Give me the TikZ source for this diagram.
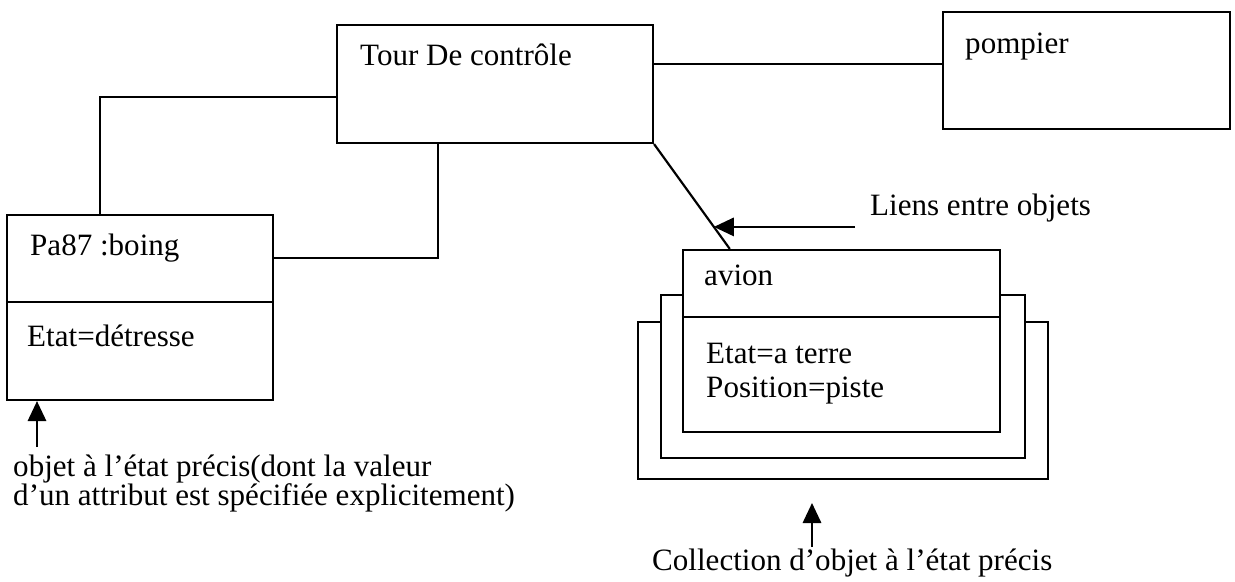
\documentclass[tikz,border=0pt]{standalone}
\usepackage{fontspec}
\setmainfont{Liberation Serif}
\usetikzlibrary{arrows.meta,calc,fit}

\tikzset{
	objbox/.style={draw, line width=0.65mm, inner sep=0pt, fit={#1}},
	lien/.style={line width=0.65mm},
	fleche/.style={line width=0.65mm, -{Triangle[length=6mm,width=5.5mm]}},
	txt/.style={anchor=base west, inner sep=0pt, font=\fontsize{26.5pt}{30pt}\selectfont}
}

\begin{document}
\begin{tikzpicture}[x=0.03cm, y=-0.03cm]
		\useasboundingbox (0,0) rectangle (1235,581);

		% objets
		\node (tour) [objbox={(337,25) (653,143)}] {};
		\node (pompier) [objbox={(943,12) (1230,129)}] {};
		\node (boing) [objbox={(7,215) (273,400)}] {};
		\node (coll3) [objbox={(638,322) (1048,479)}, fill=white] {};
		\node (coll2) [objbox={(661,295) (1025,458)}, fill=white] {};
		\node (avion) [objbox={(683,250) (1000,432)}, fill=white] {};

		\draw[lien] (boing.west |- 0,302) -- (boing.east |- 0,302);
		\draw[lien] (avion.west |- 0,317) -- (avion.east |- 0,317);

		\node[txt] (tourtxt) at (360,65) {Tour De contrôle};
		\node[txt] (pompiertxt) at (965,53) {pompier};
		\node[txt] (nom1) at (30,255) {Pa87 :boing};
		\node[txt] (etat1) at (27,346) {Etat=détresse};
		\node[txt] (nom2) at (704,285) {avion};
		\node[txt] (etat2) at (706,363) {Etat=a terre};
		\node[txt] (pos2) at (706,397) {Position=piste};

		% liens
		\draw[lien] (tour.east |- 0,64) -- (pompier.west |- 0,64);
		\draw[lien] (tour.west |- 0,97) -| ($(boing.north west)!0.35!(boing.north east)$);
		\draw[lien] (boing.east |- 0,258) -| ($(tour.south west)!0.32!(tour.south east)$);
		\draw[lien] (tour.south east) -- coordinate[pos=0.79] (lienpt) ($(avion.north west)!0.15!(avion.north east)$);

		% annotations
		\draw[fleche] (lienpt -| 855,0) -- (lienpt);
		\node[txt] (lientxt) at (870,215) {Liens entre objets};

		\coordinate (notebout) at (37,447);
		\draw[fleche] (notebout) -- (notebout |- boing.south);
		\node[txt] (note1) at (13,476) {objet à l’état précis(dont la valeur};
		\node[txt] (note2) at (13,505) {d’un attribut est spécifiée explicitement)};

		\coordinate (collbout) at (812,547);
		\draw[fleche] (collbout) -- ++(0,-44);
		\node[txt] (note3) at (652,570) {Collection d’objet à l’état précis};

	\end{tikzpicture}
\end{document}
